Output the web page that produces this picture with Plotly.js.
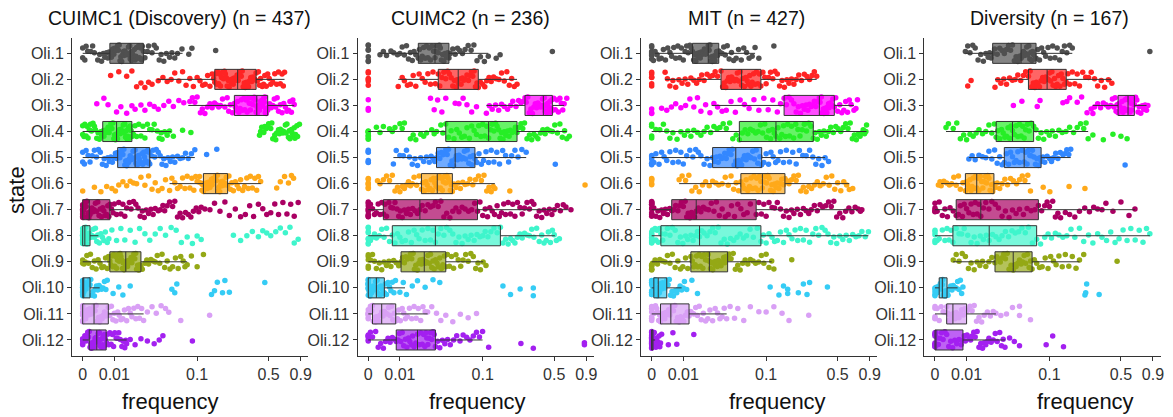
<!DOCTYPE html>
<html>
<head>
<meta charset="utf-8">
<script src="https://cdn.plot.ly/plotly-3.0.1.min.js"></script>
<style>html,body{margin:0;padding:0;background:#fff;}#chart{width:1173px;height:417px;}</style>
</head>
<body>
<div id="chart"></div>
<script>
// ---------------- DATA ----------------
const states = ['Oli.1','Oli.2','Oli.3','Oli.4','Oli.5','Oli.6','Oli.7','Oli.8','Oli.9','Oli.10','Oli.11','Oli.12'];
const panelTitles = ['CUIMC1 (Discovery) (n = 437)', 'CUIMC2 (n = 236)', 'MIT (n = 427)', 'Diversity (n = 167)'];
const tickValues = [0, 0.01, 0.1, 0.5, 0.9];
const tickLabels = ['0', '0.01', '0.1', '0.5', '0.9'];

// box statistics (frequency), one entry per state
const cuimc1Q1     = [0.0082, 0.151, 0.235, 0.0056, 0.0115, 0.116, 0, 0, 0.0082, 0, 0, 0.0016];
const cuimc1Median = [0.018, 0.253, 0.386, 0.011, 0.021, 0.154, 0.0016, 0.0005, 0.0155, 0.0002, 0.0029, 0.0037];
const cuimc1Q3     = [0.0268, 0.38, 0.49, 0.019, 0.032, 0.202, 0.0082, 0.0018, 0.025, 0.0018, 0.0076, 0.0068];
const cuimc1Lower  = [0, 0.039, 0.082, 0, 0, 0.053, 0, 0, 0, 0, 0, 0];
const cuimc1Upper  = [0.072, 0.67, 0.80, 0.055, 0.095, 0.42, 0.0294, 0.0042, 0.08, 0.0046, 0.027, 0.016];

const cuimc2Q1     = [0.0195, 0.0346, 0.263, 0.042, 0.033, 0.0215, 0.004, 0.007, 0.0105, 0, 0.001, 0.0085];
const cuimc2Median = [0.0317, 0.057, 0.394, 0.115, 0.053, 0.0337, 0.0205, 0.032, 0.0234, 0.002, 0.0035, 0.019];
const cuimc2Q3     = [0.0455, 0.0906, 0.48, 0.22, 0.084, 0.0495, 0.089, 0.151, 0.042, 0.0043, 0.0083, 0.032];
const cuimc2Lower  = [0.003, 0.0093, 0.109, 0, 0.0074, 0.0023, 0, 0, 0, 0, 0, 0];
const cuimc2Upper  = [0.114, 0.22, 0.60, 0.63, 0.27, 0.133, 0.65, 0.506, 0.101, 0.0123, 0.0258, 0.0997];

const mitQ1     = [0.0143, 0.034, 0.152, 0.054, 0.027, 0.056, 0.0056, 0.0023, 0.0135, 0.0005, 0.0022, 0];
const mitMedian = [0.0238, 0.057, 0.335, 0.126, 0.0495, 0.092, 0.0163, 0.0182, 0.0246, 0.0016, 0.0053, 0];
const mitQ3     = [0.032, 0.089, 0.465, 0.293, 0.0906, 0.155, 0.08, 0.089, 0.0404, 0.004, 0.0126, 0.0003];
const mitLower  = [0.0008, 0.0035, 0.0263, 0, 0, 0.0083, 0, 0, 0, 0, 0, 0];
const mitUpper  = [0.078, 0.316, 0.675, 0.85, 0.38, 0.62, 0.73, 0.88, 0.114, 0.0093, 0.0394, 0.0008];

const diversityQ1     = [0.0246, 0.062, 0.47, 0.0272, 0.034, 0.0095, 0.006, 0.0049, 0.0263, 0.001, 0.003, 0];
const diversityMedian = [0.052, 0.095, 0.57, 0.042, 0.056, 0.0148, 0.017, 0.0222, 0.0428, 0.0018, 0.0049, 0];
const diversityQ3     = [0.074, 0.148, 0.64, 0.070, 0.083, 0.0255, 0.078, 0.075, 0.0675, 0.0031, 0.01, 0.0085];
const diversityLower  = [0.0095, 0.0263, 0.27, 0.0028, 0.011, 0.0015, 0, 0, 0.005, 0, 0, 0];
const diversityUpper  = [0.17, 0.41, 0.80, 0.243, 0.164, 0.065, 0.647, 0.85, 0.2, 0.0065, 0.027, 0.0346];

// sample frequencies (points), one list per state
const cuimc1Points = [
 [0,0,0.0005,0.0012,0.002,0.003,0.004,0.0052,0.0063,0.0074,0.0085,0.009,0.0098,0.0106,0.0115,0.0122,0.013,0.0139,0.0146,0.0155,0.0165,0.0174,0.018,0.0188,0.0195,0.0205,0.0215,0.0228,0.024,0.0255,0.028,0.031,0.034,0.038,0.043,0.049,0.056,0.064,0.071,0.083,0.089,0.154,
  0.0008,0.0025,0.0046,0.0058,0.0069,0.0079,0.0088,0.0094,0.0102,0.011,0.0118,0.0126,0.0134,0.0143,0.015,0.016,0.017,0.0177,0.0184,0.0192,0.02,0.021,0.022,0.0234,0.0248,0.026,0.0268,0.03,0.036,0.041,0.046,0.053,0.06],
 [0.0085,0.012,0.016,0.019,0.022,0.025,0.028,0.031,0.034,0.04,0.05,0.06,0.072,0.085,0.1,0.114,0.128,0.142,0.151,0.158,0.165,0.172,0.18,0.188,0.196,0.205,0.214,0.224,0.234,0.245,0.256,0.268,0.28,0.293,0.307,0.322,0.338,0.355,0.37,0.39,0.41,0.435,0.46,0.49,0.52,0.56,0.6,0.64,0.67,
  0.045,0.055,0.066,0.078,0.092,0.107,0.121,0.135,0.147,0.154,0.161,0.168,0.176,0.184,0.192,0.2,0.209,0.219,0.229,0.24,0.25,0.262,0.274,0.286,0.3,0.315,0.33,0.346,0.362,0.38,0.4,0.42,0.448,0.475,0.505,0.54,0.58,0.62,0.655],
 [0.0037,0.006,0.0075,0.011,0.013,0.016,0.019,0.021,0.025,0.028,0.032,0.036,0.04,0.046,0.052,0.058,0.066,0.074,0.085,0.095,0.108,0.12,0.135,0.15,0.165,0.18,0.2,0.215,0.235,0.245,0.26,0.275,0.29,0.305,0.32,0.335,0.35,0.365,0.386,0.395,0.405,0.415,0.425,0.435,0.445,0.455,0.465,0.475,0.49,0.51,0.54,0.57,0.6,0.64,0.68,0.72,0.76,0.8,
  0.09,0.1,0.113,0.127,0.142,0.157,0.172,0.19,0.207,0.225,0.24,0.252,0.267,0.282,0.297,0.312,0.327,0.342,0.357,0.372,0.38,0.39,0.4,0.41,0.42,0.43,0.44,0.45,0.46,0.47,0.48,0.5,0.525,0.555,0.585,0.62,0.66,0.7,0.74,0.78],
 [0,0,0.0005,0.001,0.0016,0.0022,0.003,0.0037,0.0045,0.0052,0.006,0.0067,0.0075,0.0082,0.009,0.0098,0.0105,0.011,0.0118,0.0126,0.0134,0.0142,0.015,0.0158,0.0166,0.0175,0.0185,0.02,0.022,0.025,0.028,0.032,0.036,0.041,0.047,0.053,0.043,0.05,0.058,0.072,0.087,0.41,0.43,0.45,0.47,0.5,0.52,0.54,0.56,0.58,0.6,0.62,0.64,0.66,0.68,0.7,0.72,0.74,0.76,0.78,0.8,0.82,0.85,0.88,
  0.0003,0.0008,0.0013,0.0019,0.0026,0.0033,0.0041,0.0049,0.0056,0.0063,0.0071,0.0079,0.0086,0.0094,0.0101,0.0108,0.0114,0.0122,0.013,0.0138,0.0146,0.0154,0.0162,0.017,0.018,0.019,0.021,0.0235,0.0265,0.03,0.034,0.039,0.044,
  0.42,0.46,0.49,0.53,0.57,0.61,0.65,0.69,0.73,0.77,0.81,0.84],
 [0,0,0.0008,0.0018,0.003,0.0042,0.0055,0.0068,0.008,0.0092,0.0105,0.0115,0.0125,0.0135,0.0145,0.0155,0.0165,0.0175,0.0185,0.0197,0.021,0.022,0.0232,0.0245,0.0258,0.027,0.0283,0.0296,0.031,0.032,0.035,0.038,0.042,0.046,0.051,0.057,0.064,0.072,0.082,0.095,0.125,0.158,
  0.0004,0.0013,0.0024,0.0036,0.0048,0.0061,0.0074,0.0086,0.0098,0.011,0.012,0.013,0.014,0.015,0.016,0.017,0.018,0.019,0.0203,0.0215,0.0226,0.0238,0.0251,0.0264,0.0276,0.029,0.0303,0.0315,0.0335,0.0365,0.04,0.044,0.0485,0.054,0.06,0.068,0.077,0.088],
 [0,0.003,0.005,0.007,0.009,0.0105,0.012,0.014,0.016,0.018,0.02,0.022,0.025,0.028,0.031,0.034,0.037,0.04,0.044,0.048,0.053,0.06,0.068,0.076,0.085,0.093,0.1,0.106,0.112,0.116,0.122,0.127,0.132,0.137,0.142,0.147,0.154,0.16,0.166,0.172,0.178,0.185,0.192,0.202,0.215,0.23,0.25,0.27,0.295,0.32,0.35,0.385,0.42,0.58,0.62,0.67,0.72,0.76,0.79,
  0.056,0.064,0.072,0.08,0.089,0.097,0.103,0.109,0.114,0.119,0.124,0.13,0.135,0.14,0.145,0.15,0.157,0.163,0.169,0.175,0.181,0.188,0.196,0.208,0.222,0.24,0.26,0.283,0.31,0.335,0.37,0.4],
 [0,0,0,0,0,0,0,0.0003,0.0006,0.001,0.0013,0.0016,0.002,0.0026,0.0033,0.004,0.0048,0.0056,0.0065,0.0074,0.0082,0.0095,0.011,0.013,0.015,0.0175,0.02,0.023,0.026,0.029,0.033,0.037,0.042,0.047,0.053,0.06,0.068,0.077,0.087,0.098,0.11,0.12,0.135,0.15,0.17,0.19,0.21,0.24,0.27,0.3,0.33,0.36,0.4,0.44,0.48,0.52,0.56,0.6,0.65,0.7,0.75,0.8,0.86,
  0,0,0,0,0.0001,0.0004,0.0008,0.0011,0.0015,0.0018,0.0023,0.0029,0.0036,0.0044,0.0052,0.006,0.007,0.0078,0.0088,0.01,0.012,0.014,0.016,0.0185,0.0215,0.0245,0.0275,0.031,0.035,0.04,0.045,0.05,0.057,0.064,0.072,0.082,0.092,0.104],
 [0,0,0,0,0,0,0,0,0,0.0002,0.0004,0.0006,0.0009,0.0012,0.0015,0.0018,0.0024,0.003,0.0037,0.0045,0.0055,0.0065,0.0078,0.009,0.011,0.013,0.015,0.018,0.021,0.024,0.028,0.032,0.037,0.042,0.048,0.055,0.062,0.07,0.08,0.09,0.1,0.11,0.23,0.27,0.31,0.35,0.4,0.44,0.48,0.52,0.57,0.62,0.68,0.74,0.8,0.86,
  0,0,0,0,0,0,0.0001,0.0003,0.0005,0.0007,0.0008,0.001,0.0014,0.0017,0.0021,0.0027,0.0033,0.004,0.005,0.006,0.0072],
 [0,0,0.0006,0.0014,0.0024,0.0035,0.0047,0.006,0.0072,0.0082,0.009,0.0098,0.0106,0.0114,0.0122,0.013,0.0138,0.0146,0.0155,0.0165,0.0175,0.0185,0.0196,0.0208,0.022,0.0234,0.025,0.028,0.031,0.035,0.039,0.044,0.05,0.057,0.065,0.073,0.08,0.088,0.1,0.116,
  0.0003,0.001,0.0019,0.003,0.0041,0.0053,0.0066,0.0077,0.0086,0.0094,0.0102,0.011,0.0118,0.0126,0.0134,0.0142,0.015,0.016,0.017,0.018,0.019,0.0202,0.0214,0.0227,0.0242,0.026,0.0295,0.033,0.037,0.0415,0.047,0.0535,0.061,0.069,0.076],
 [0,0,0,0,0,0,0,0,0,0.0002,0.0005,0.0008,0.0012,0.0016,0.002,0.0026,0.0033,0.004,0.0048,0.0057,0.0067,0.0095,0.012,0.014,0.018,0.056,0.06,0.063,0.14,0.15,0.16,0.18,0.19,0.21,0.46,
  0,0,0,0,0,0,0.0001,0.0003,0.0006,0.001,0.0014,0.0018,0.0023,0.003,0.0036,0.0044,0.0052,0.0062,0.0072],
 [0,0,0,0,0,0.0003,0.0007,0.0012,0.0017,0.0022,0.0029,0.0035,0.0042,0.005,0.0058,0.0067,0.0076,0.0088,0.01,0.0115,0.013,0.0148,0.017,0.019,0.0215,0.024,0.027,0.03,0.034,0.038,0.043,0.048,0.052,0.069,0.134,
  0,0,0,0.0001,0.0005,0.001,0.0014,0.002,0.0025,0.0032,0.0038,0.0046,0.0054,0.0062,0.0071,0.0082,0.0094,0.0107,0.0122,0.014,0.016,0.018,0.0202,0.0228,0.0255],
 [0,0,0,0.0005,0.001,0.0014,0.0018,0.0022,0.0026,0.003,0.0034,0.0037,0.0041,0.0045,0.005,0.0055,0.006,0.0065,0.007,0.0078,0.0087,0.0097,0.0108,0.012,0.0135,0.015,0.016,0.018,0.021,0.025,0.03,0.036,0.041,0.045,0.09,
  0,0,0.0002,0.0008,0.0012,0.0016,0.002,0.0024,0.0028,0.0032,0.0035,0.0039,0.0043,0.0047,0.0052,0.0057,0.0062,0.0067,0.0074,0.0082,0.0092,0.0102,0.0114,0.0127,0.0142,0.0155]
];

const cuimc2Points = [
 [0,0,0,0,0,0.003,0.005,0.0075,0.01,0.012,0.014,0.016,0.018,0.0195,0.021,0.023,0.025,0.027,0.029,0.0317,0.0335,0.0355,0.0375,0.04,0.0425,0.0455,0.05,0.056,0.063,0.072,0.082,0.095,0.114,0.137,0.15,0.48,
  0,0,0.004,0.0065,0.009,0.011,0.013,0.015,0.017,0.0202,0.022,0.024,0.026,0.028,0.0305,0.0326,0.0345,0.0365,0.0388,0.0412,0.044,0.047,0.053,0.059,0.067,0.077,0.088,0.104],
 [0,0,0,0,0,0.0093,0.012,0.015,0.018,0.022,0.026,0.03,0.0346,0.038,0.042,0.046,0.05,0.054,0.057,0.061,0.065,0.07,0.075,0.08,0.085,0.0906,0.1,0.11,0.122,0.137,0.155,0.175,0.195,0.22,
  0,0.011,0.0135,0.0165,0.02,0.024,0.028,0.032,0.036,0.04,0.044,0.048,0.052,0.0555,0.059,0.063,0.0675,0.0725,0.0775,0.0825,0.088,0.095,0.105,0.116,0.129,0.146,0.165,0.185,0.207],
 [0,0,0,0.028,0.031,0.034,0.038,0.042,0.053,0.058,0.064,0.07,0.078,0.087,0.109,0.125,0.145,0.165,0.19,0.215,0.24,0.263,0.28,0.3,0.32,0.34,0.36,0.38,0.394,0.41,0.425,0.44,0.455,0.47,0.48,0.51,0.54,0.57,0.6,0.63,
  0.117,0.135,0.155,0.178,0.2,0.228,0.25,0.27,0.29,0.31,0.33,0.35,0.37,0.387,0.402,0.418,0.432,0.447,0.462,0.475,0.495,0.525,0.555,0.585],
 [0,0,0,0,0,0,0.002,0.004,0.006,0.008,0.01,0.012,0.015,0.018,0.021,0.025,0.029,0.033,0.037,0.042,0.048,0.055,0.062,0.07,0.078,0.087,0.096,0.105,0.115,0.125,0.135,0.145,0.155,0.165,0.178,0.19,0.205,0.22,0.24,0.26,0.29,0.32,0.35,0.39,0.43,0.48,0.53,0.58,0.63,0.66,
  0,0,0.003,0.007,0.011,0.0165,0.023,0.031,0.039,0.045,0.0515,0.0585,0.066,0.074,0.0825,0.0915,0.1,0.11,0.12,0.13,0.14,0.15,0.16,0.171,0.184,0.197,0.212,0.23,0.25,0.275,0.305,0.335,0.37,0.41,0.455,0.505,0.555,0.605],
 [0,0,0,0,0,0.0074,0.01,0.013,0.016,0.019,0.023,0.027,0.03,0.033,0.036,0.039,0.042,0.045,0.049,0.053,0.056,0.06,0.064,0.068,0.073,0.078,0.084,0.092,0.102,0.115,0.13,0.148,0.17,0.195,0.225,0.27,0.51,
  0,0.0085,0.0115,0.0145,0.0175,0.021,0.025,0.0285,0.0315,0.0345,0.0375,0.0405,0.0435,0.047,0.051,0.0545,0.058,0.062,0.066,0.0705,0.0755,0.081,0.088,0.097,0.108,0.122,0.139,0.159,0.182,0.21,0.245],
 [0,0,0,0,0,0,0.0023,0.004,0.006,0.008,0.01,0.012,0.014,0.016,0.0185,0.0215,0.0235,0.0255,0.0275,0.0295,0.0315,0.0337,0.0355,0.0375,0.0395,0.042,0.0445,0.047,0.0495,0.054,0.06,0.067,0.075,0.085,0.097,0.11,0.122,0.133,0.187,0.88,
  0,0.003,0.005,0.007,0.009,0.011,0.013,0.015,0.017,0.02,0.0225,0.0245,0.0265,0.0285,0.0305,0.0326,0.0346,0.0365,0.0385,0.0408,0.0432,0.0458,0.0482,0.0515,0.057,0.0635,0.071,0.08,0.091,0.103,0.116,0.128],
 [0,0,0,0,0,0,0,0.001,0.002,0.003,0.004,0.005,0.0065,0.008,0.0095,0.011,0.013,0.015,0.0175,0.0205,0.024,0.028,0.032,0.037,0.043,0.05,0.058,0.067,0.078,0.089,0.1,0.112,0.125,0.14,0.155,0.17,0.19,0.21,0.235,0.26,0.29,0.32,0.36,0.4,0.45,0.5,0.56,0.62,0.68,
  0,0,0,0.0005,0.0015,0.0025,0.0035,0.0045,0.0058,0.0072,0.0088,0.0102,0.012,0.014,0.0162,0.019,0.022,0.026,0.03,0.0345,0.04,0.0465,0.054,0.0625,0.0725,0.0835,0.094,0.106,0.118,0.132,0.147,0.163,0.18,0.2,0.222,0.247,0.275,0.305,0.34,0.38,0.425,0.475,0.53,0.59],
 [0,0,0,0,0,0,0.001,0.002,0.0035,0.005,0.007,0.009,0.011,0.014,0.017,0.02,0.024,0.028,0.032,0.037,0.043,0.05,0.058,0.067,0.077,0.088,0.1,0.113,0.13,0.151,0.17,0.19,0.21,0.235,0.26,0.29,0.32,0.36,0.4,0.44,0.48,0.52,0.55,
  0,0,0.0005,0.0015,0.0028,0.0042,0.006,0.008,0.01,0.0125,0.0155,0.0185,0.022,0.026,0.03,0.0345,0.04,0.0465,0.054,0.0625,0.072,0.0825,0.094,0.106,0.121,0.14,0.16,0.18,0.2,0.222,0.247,0.275,0.305,0.34,0.38,0.42,0.46,0.5],
 [0,0,0,0,0.001,0.002,0.0035,0.005,0.0065,0.0085,0.0105,0.012,0.0135,0.015,0.0165,0.018,0.0198,0.0215,0.0234,0.025,0.027,0.029,0.031,0.0335,0.036,0.039,0.042,0.046,0.051,0.057,0.064,0.072,0.081,0.09,0.101,0.108,
  0,0.0005,0.0015,0.0028,0.0042,0.0058,0.0075,0.0095,0.0112,0.0127,0.0142,0.0157,0.0172,0.0189,0.0206,0.0224,0.0242,0.026,0.028,0.03,0.0322,0.0347,0.0375,0.0405,0.0438,0.0485,0.054,0.0605,0.068,0.0765,0.0855,0.095],
 [0,0,0,0,0,0,0,0.0004,0.0008,0.0012,0.0016,0.002,0.0025,0.003,0.0036,0.0043,0.005,0.006,0.007,0.0082,0.01,0.0115,0.013,0.016,0.019,0.024,0.03,0.036,0.16,0.19,0.236,0.316,0.316,
  0,0,0,0,0.0002,0.0006,0.001,0.0014,0.0018,0.0022,0.0027,0.0033,0.0039,0.0046,0.0055,0.0065,0.0076],
 [0,0,0,0,0,0.0005,0.001,0.0015,0.002,0.0027,0.0035,0.0043,0.0052,0.0062,0.0072,0.0083,0.0095,0.011,0.0125,0.0145,0.017,0.0195,0.0225,0.0258,0.029,0.033,0.037,0.042,0.05,0.06,0.072,0.087,
  0,0,0,0.0002,0.0008,0.0012,0.0018,0.0023,0.003,0.0039,0.0047,0.0057,0.0067,0.0078,0.009,0.0102,0.0117,0.0135,0.0157,0.0182,0.021,0.024],
 [0,0,0,0,0.001,0.0025,0.004,0.0055,0.007,0.0085,0.0098,0.011,0.0125,0.014,0.0155,0.017,0.019,0.021,0.023,0.0245,0.026,0.028,0.03,0.032,0.036,0.041,0.047,0.055,0.064,0.075,0.087,0.0997,0.115,0.24,0.316,0.87,0.87,
  0,0,0.0005,0.0018,0.0032,0.0047,0.0062,0.0078,0.0092,0.0104,0.0117,0.0132,0.0147,0.0162,0.018,0.02,0.022,0.0238,0.0252,0.027,0.029,0.031,0.034,0.0385,0.044,0.051,0.0595,0.0695,0.081,0.093]
];

const mitPoints = [
 [0,0,0,0,0,0,0.0008,0.0018,0.003,0.0043,0.0056,0.007,0.0085,0.01,0.0115,0.013,0.0143,0.0155,0.0167,0.018,0.0192,0.0205,0.022,0.0238,0.025,0.0262,0.0275,0.0288,0.0302,0.032,0.035,0.038,0.042,0.047,0.053,0.06,0.068,0.078,0.085,0.12,
  0,0,0,0.0004,0.0013,0.0024,0.0036,0.005,0.0063,0.0078,0.0092,0.0108,0.0122,0.0136,0.0149,0.0161,0.0173,0.0186,0.0198,0.0212,0.0229,0.0244,0.0256,0.0268,0.0281,0.0295,0.031,0.0335,0.0365,0.04,0.0445,0.05,0.0565,0.064,0.073],
 [0,0,0,0,0.0035,0.005,0.007,0.0095,0.012,0.015,0.018,0.021,0.025,0.029,0.034,0.037,0.04,0.043,0.046,0.05,0.053,0.057,0.061,0.065,0.069,0.073,0.078,0.083,0.089,0.097,0.106,0.117,0.13,0.145,0.162,0.18,0.2,0.225,0.255,0.285,0.316,
  0,0,0.0042,0.006,0.0082,0.0108,0.0135,0.0165,0.0195,0.023,0.027,0.031,0.0355,0.0385,0.0415,0.0445,0.048,0.0515,0.055,0.059,0.063,0.067,0.071,0.0755,0.0805,0.086,0.093,0.1,0.111,0.123,0.137,0.153,0.17,0.19,0.212,0.24,0.27,0.3],
 [0,0,0,0.0025,0.004,0.0055,0.007,0.009,0.011,0.013,0.015,0.017,0.019,0.022,0.025,0.028,0.031,0.035,0.039,0.044,0.049,0.055,0.061,0.068,0.076,0.085,0.095,0.105,0.117,0.13,0.152,0.17,0.19,0.21,0.23,0.25,0.27,0.29,0.31,0.335,0.35,0.365,0.38,0.395,0.41,0.425,0.44,0.465,0.5,0.54,0.58,0.62,0.675,0.72,
  0.14,0.16,0.18,0.2,0.22,0.24,0.26,0.28,0.3,0.32,0.34,0.355,0.37,0.385,0.4,0.415,0.43,0.45,0.48,0.52,0.56,0.6,0.64,0.7],
 [0,0,0,0.002,0.004,0.006,0.009,0.012,0.015,0.019,0.023,0.028,0.033,0.039,0.046,0.054,0.062,0.07,0.079,0.088,0.097,0.106,0.116,0.126,0.138,0.15,0.165,0.18,0.198,0.218,0.24,0.265,0.293,0.32,0.35,0.39,0.43,0.48,0.53,0.58,0.63,0.68,0.73,0.78,0.82,0.85,
  0,0.001,0.003,0.005,0.0075,0.0105,0.0135,0.017,0.021,0.0255,0.0305,0.036,0.0425,0.05,0.058,0.066,0.0745,0.0835,0.0925,0.101,0.111,0.121,0.132,0.144,0.157,0.172,0.189,0.208,0.229,0.252,0.278,0.305,0.335,0.37,0.41,0.455,0.505,0.555,0.605,0.655,0.705,0.755,0.8,0.84],
 [0,0,0,0,0.001,0.0025,0.004,0.006,0.008,0.01,0.013,0.016,0.019,0.023,0.027,0.03,0.033,0.036,0.039,0.042,0.0455,0.0495,0.053,0.057,0.061,0.066,0.071,0.077,0.083,0.0906,0.1,0.112,0.125,0.14,0.16,0.185,0.215,0.25,0.29,0.33,0.38,0.41,
  0,0,0.0005,0.0018,0.0032,0.005,0.007,0.009,0.0115,0.0145,0.0175,0.021,0.025,0.0285,0.0315,0.0345,0.0375,0.0405,0.044,0.0475,0.0512,0.055,0.059,0.0635,0.0685,0.074,0.08,0.087,0.095,0.106,0.118,0.132,0.15,0.172,0.2,0.232,0.27,0.31,0.355],
 [0,0,0,0,0.0083,0.011,0.014,0.018,0.022,0.027,0.032,0.038,0.044,0.05,0.056,0.061,0.066,0.071,0.076,0.081,0.086,0.092,0.098,0.104,0.111,0.118,0.126,0.135,0.144,0.155,0.17,0.19,0.21,0.235,0.265,0.3,0.34,0.39,0.44,0.5,0.56,0.62,0.66,
  0,0.0095,0.0125,0.016,0.02,0.0245,0.0295,0.035,0.041,0.047,0.053,0.0585,0.0635,0.0685,0.0735,0.0785,0.0835,0.089,0.095,0.101,0.1075,0.1145,0.122,0.13,0.1395,0.15,0.162,0.18,0.2,0.222,0.25,0.282,0.32,0.365,0.415,0.47,0.53,0.59],
 [0,0,0,0,0,0,0,0.001,0.002,0.003,0.0042,0.0056,0.007,0.0085,0.01,0.0115,0.013,0.0145,0.0163,0.019,0.022,0.026,0.03,0.035,0.041,0.048,0.056,0.065,0.08,0.09,0.1,0.115,0.13,0.15,0.17,0.19,0.22,0.25,0.28,0.32,0.36,0.41,0.46,0.52,0.58,0.65,0.73,0.78,
  0,0,0,0,0,0.0005,0.0015,0.0025,0.0036,0.0049,0.0063,0.0078,0.0092,0.0108,0.0122,0.0138,0.0154,0.0175,0.0205,0.024,0.028,0.0325,0.038,0.0445,0.052,0.06,0.07,0.085,0.095,0.107,0.122,0.14,0.16,0.18,0.205,0.235,0.265,0.3,0.34,0.385,0.435,0.49,0.55,0.615,0.69,0.76],
 [0,0,0,0,0,0,0.0005,0.001,0.0016,0.0023,0.0035,0.005,0.0068,0.0088,0.011,0.0135,0.0158,0.0182,0.021,0.025,0.029,0.034,0.04,0.047,0.055,0.064,0.075,0.089,0.1,0.115,0.13,0.15,0.17,0.195,0.22,0.25,0.29,0.33,0.38,0.43,0.49,0.55,0.62,0.7,0.78,0.88,
  0,0,0,0.0002,0.0008,0.0013,0.0019,0.0028,0.0042,0.0058,0.0078,0.0098,0.012,0.0146,0.017,0.0195,0.023,0.027,0.0315,0.037,0.0435,0.051,0.0595,0.0695,0.082,0.094,0.107,0.122,0.14,0.16,0.182,0.207,0.235,0.27,0.31,0.355,0.405,0.46,0.52,0.585,0.66,0.74,0.83],
 [0,0,0,0,0.0008,0.002,0.0035,0.005,0.0068,0.0088,0.011,0.0135,0.015,0.0165,0.018,0.0195,0.021,0.0228,0.0246,0.0262,0.028,0.0298,0.0318,0.034,0.0365,0.0385,0.0404,0.044,0.049,0.055,0.062,0.07,0.079,0.09,0.1,0.114,0.12,0.181,
  0,0,0.0002,0.0014,0.0027,0.0042,0.0058,0.0078,0.0098,0.012,0.0142,0.0157,0.0172,0.0187,0.0202,0.0219,0.0237,0.0254,0.0271,0.0289,0.0308,0.0329,0.0352,0.0375,0.0395,0.042,0.0465,0.052,0.0585,0.066,0.0745,0.0845,0.095,0.107],
 [0,0,0,0,0,0,0.0003,0.0005,0.0008,0.0011,0.0014,0.0016,0.0019,0.0023,0.0028,0.0034,0.004,0.0048,0.0057,0.0068,0.008,0.0093,0.0105,0.0115,0.014,0.017,0.11,0.135,0.15,0.165,0.165,0.21,0.235,0.255,0.27,0.4,
  0,0,0,0,0,0.0001,0.0004,0.0006,0.0009,0.0012,0.0015,0.0017,0.0021,0.0025,0.0031,0.0037,0.0044,0.0052,0.0062,0.0074,0.0087,0.01],
 [0,0,0,0,0,0.0006,0.0012,0.0017,0.0022,0.0028,0.0034,0.004,0.0046,0.0053,0.0062,0.0072,0.0083,0.0095,0.011,0.0126,0.0142,0.016,0.018,0.0205,0.0235,0.027,0.031,0.035,0.0394,0.043,0.048,0.052,0.06,0.07,0.085,0.1,0.12,0.145,0.17,0.265,
  0,0,0,0.0003,0.0009,0.0014,0.002,0.0025,0.0031,0.0037,0.0043,0.005,0.0057,0.0067,0.0077,0.0089,0.0102,0.0118,0.0134,0.015,0.017,0.0192,0.022,0.025,0.029,0.033,0.037],
 [0,0,0,0,0,0,0,0,0,0,0,0,0.0002,0.0004,0.0006,0.0009,0.0012,0.0016,0.002,0.0025,0.0045,0.006,0.0074,0.015,
  0,0,0,0,0,0,0,0,0,0,0.0001,0.0003,0.0005,0.0007,0.001,0.0014,0.0018,0.0022]
];

const diversityPoints = [
 [0.0095,0.0115,0.014,0.017,0.02,0.0225,0.0246,0.028,0.032,0.036,0.04,0.044,0.048,0.052,0.055,0.058,0.061,0.064,0.067,0.07,0.074,0.08,0.088,0.097,0.108,0.12,0.135,0.15,0.17,0.85,
  0.0105,0.0128,0.0155,0.0185,0.0215,0.0235,0.026,0.03,0.034,0.038,0.042,0.046,0.05,0.0535,0.0565,0.0595,0.0625,0.0655,0.0685,0.072,0.077,0.084,0.092,0.102,0.114,0.127,0.142,0.16],
 [0.0105,0.012,0.0263,0.031,0.036,0.042,0.048,0.055,0.062,0.067,0.072,0.077,0.083,0.089,0.095,0.1,0.106,0.113,0.12,0.128,0.137,0.148,0.16,0.18,0.2,0.23,0.26,0.3,0.35,0.41,
  0.0285,0.0335,0.039,0.045,0.0515,0.058,0.0645,0.0695,0.0745,0.08,0.086,0.092,0.0975,0.103,0.109,0.116,0.124,0.132,0.142,0.154,0.17,0.19,0.215,0.245,0.28,0.325,0.38],
 [0.043,0.053,0.076,0.081,0.137,0.15,0.16,0.19,0.21,0.237,0.26,0.3,0.27,0.32,0.36,0.4,0.43,0.45,0.47,0.49,0.51,0.53,0.55,0.57,0.59,0.6,0.62,0.64,0.67,0.7,0.74,0.78,0.82,
  0.28,0.34,0.38,0.415,0.44,0.46,0.48,0.5,0.52,0.54,0.56,0.58,0.595,0.61,0.63,0.655,0.685,0.72,0.76,0.8],
 [0.0028,0.005,0.0075,0.01,0.013,0.016,0.02,0.024,0.0272,0.03,0.033,0.036,0.039,0.042,0.046,0.05,0.054,0.058,0.063,0.07,0.078,0.088,0.1,0.115,0.135,0.16,0.19,0.22,0.243,0.27,0.34,0.42,0.5,0.56,
  0.0035,0.0062,0.0088,0.0115,0.0145,0.018,0.022,0.0258,0.0285,0.0315,0.0345,0.0375,0.0405,0.044,0.048,0.052,0.056,0.0605,0.066,0.074,0.083,0.094,0.107,0.125,0.147,0.175,0.205,0.232],
 [0.011,0.014,0.018,0.022,0.026,0.03,0.034,0.038,0.042,0.046,0.05,0.056,0.06,0.064,0.068,0.073,0.078,0.083,0.09,0.1,0.11,0.122,0.137,0.15,0.164,0.54,
  0.0125,0.016,0.02,0.024,0.028,0.032,0.036,0.04,0.044,0.048,0.053,0.058,0.062,0.066,0.0705,0.0755,0.0805,0.0865,0.095,0.105,0.116,0.129,0.143,0.157],
 [0.0008,0.0015,0.003,0.0045,0.006,0.0075,0.0095,0.0105,0.0115,0.0125,0.0136,0.0148,0.016,0.0175,0.019,0.0205,0.022,0.0238,0.0255,0.028,0.032,0.037,0.043,0.05,0.057,0.065,0.087,0.101,0.158,0.226,
  0.0012,0.0022,0.0038,0.0052,0.0068,0.0085,0.01,0.011,0.012,0.013,0.0142,0.0154,0.0167,0.0182,0.0198,0.0212,0.0228,0.0246,0.0265,0.03,0.0345,0.04,0.0465,0.0535,0.061],
 [0,0,0,0.001,0.0025,0.004,0.006,0.0075,0.009,0.011,0.013,0.015,0.017,0.02,0.024,0.029,0.035,0.042,0.05,0.06,0.078,0.09,0.1,0.115,0.13,0.16,0.2,0.25,0.3,0.36,0.42,0.5,0.58,0.647,
  0,0,0.0005,0.0018,0.0032,0.005,0.0068,0.0083,0.01,0.012,0.014,0.016,0.0185,0.022,0.0265,0.032,0.0385,0.046,0.055,0.066,0.072,0.084,0.095,0.108,0.122,0.145,0.18,0.225,0.275,0.33],
 [0,0,0,0.001,0.0025,0.0037,0.0049,0.007,0.009,0.012,0.015,0.0185,0.0222,0.027,0.032,0.038,0.045,0.053,0.062,0.075,0.09,0.105,0.125,0.15,0.18,0.22,0.27,0.33,0.4,0.48,0.56,0.65,0.75,0.85,
  0,0,0.0005,0.0018,0.0031,0.0043,0.006,0.008,0.0105,0.0135,0.0167,0.0203,0.0245,0.0295,0.035,0.0415,0.049,0.0575,0.068,0.082,0.097,0.115,0.137,0.165,0.2,0.245,0.3,0.365,0.44,0.52,0.6,0.7,0.8],
 [0.005,0.007,0.0095,0.012,0.015,0.018,0.022,0.0263,0.029,0.032,0.035,0.0385,0.0428,0.046,0.05,0.054,0.058,0.063,0.0675,0.075,0.085,0.097,0.11,0.125,0.145,0.17,0.2,0.22,0.46,
  0.006,0.0082,0.0108,0.0135,0.0165,0.02,0.024,0.0277,0.0305,0.0335,0.0368,0.0405,0.0445,0.048,0.052,0.056,0.0605,0.0652,0.071,0.08,0.091,0.103,0.117,0.135,0.157,0.185],
 [0,0,0,0.0005,0.001,0.0013,0.0016,0.0018,0.0021,0.0025,0.0031,0.0038,0.0046,0.0055,0.0065,0.0075,0.0085,0.226,0.23,0.235,0.31,
  0,0,0.0003,0.0008,0.0011,0.0014,0.0017,0.0019,0.0023,0.0028,0.0034,0.0042,0.005,0.006,0.007,0.008],
 [0,0,0,0.001,0.002,0.003,0.0036,0.0042,0.0049,0.0056,0.0065,0.0075,0.0087,0.01,0.0115,0.0135,0.016,0.019,0.023,0.027,0.031,0.036,0.042,0.05,0.05,0.065,
  0,0,0.0005,0.0015,0.0025,0.0033,0.0039,0.0045,0.0052,0.006,0.007,0.008,0.0093,0.0107,0.0125,0.0147,0.0175,0.021,0.025],
 [0,0,0,0,0,0,0.0005,0.0012,0.002,0.003,0.0042,0.0055,0.007,0.0085,0.0095,0.011,0.0125,0.014,0.016,0.018,0.02,0.022,0.025,0.028,0.0315,0.0346,0.039,0.044,0.05,0.093,0.108,0.139,
  0,0,0,0,0.0002,0.0008,0.0016,0.0025,0.0036,0.0048,0.0062,0.0078,0.009,0.0102,0.0118,0.0133,0.015,0.017,0.019,0.021,0.0235,0.0265,0.03,0.033]
];

// ---------------- STYLE ----------------
const stateColors = ['#505050','#ff2424','#ff00ff','#26ee26','#3388ff','#ffa91a','#aa0063','#3ff5cc','#94a816','#35ccf5','#d9a0f5','#a320f0'];
const FONT = 'Liberation Sans, Arial, Helvetica, sans-serif';
const W = 1173, H = 417;
const panelLeft = [72.0, 357.6, 641.0, 924.3];
const panelWidth = 236.3;
const plotTop = 37.7, plotBottom = 355.6;
const xRange = [-0.049, 1.035];
// jitter groups: small groups so Plotly's own jitter spreads every point evenly
const groupSizes = [5, 3, 4, 6, 5, 4, 3, 6, 4];
const jitterStyles = [[0, 0.9], [-0.45, 0.5], [0.45, 0.5], [0.2, 0.4], [-0.2, 0.4], [-0.6, 0.35],
                      [0.6, 0.35], [0, 0.3], [-0.3, 0.6], [0.3, 0.6], [0.1, 0.8], [-0.1, 0.8]];

// axis transform: pseudo-log, anchored at the tick breaks
const anchorPos = [0, 0.145, 0.525, 0.853, 1];
function tx(v) {
  const c = 0.0115, g = function (x) { return Math.log10(x + c); };
  let i = 0;
  while (i < tickValues.length - 2 && v > tickValues[i + 1]) i++;
  return anchorPos[i] + (anchorPos[i + 1] - anchorPos[i]) *
    (g(v) - g(tickValues[i])) / (g(tickValues[i + 1]) - g(tickValues[i]));
}
function rgba(hex, a) {
  const n = parseInt(hex.slice(1), 16);
  return 'rgba(' + (n >> 16 & 255) + ',' + (n >> 8 & 255) + ',' + (n & 255) + ',' + a + ')';
}

const panels = [
  {points: cuimc1Points, q1: cuimc1Q1, med: cuimc1Median, q3: cuimc1Q3, lo: cuimc1Lower, hi: cuimc1Upper},
  {points: cuimc2Points, q1: cuimc2Q1, med: cuimc2Median, q3: cuimc2Q3, lo: cuimc2Lower, hi: cuimc2Upper},
  {points: mitPoints, q1: mitQ1, med: mitMedian, q3: mitQ3, lo: mitLower, hi: mitUpper},
  {points: diversityPoints, q1: diversityQ1, med: diversityMedian, q3: diversityQ3, lo: diversityLower, hi: diversityUpper}
];

const pointTraces = [], boxTraces = [];
const layout = {
  width: W, height: H, margin: {l: 0, r: 0, t: 0, b: 0},
  paper_bgcolor: '#fff', plot_bgcolor: '#fff',
  showlegend: false, boxmode: 'overlay',
  font: {family: FONT, color: '#222'},
  annotations: []
};

let groupCounter = 0;
panels.forEach(function (p, k) {
  const ax = k === 0 ? '' : String(k + 1);
  const xa = 'x' + ax, ya = 'y' + ax;
  states.forEach(function (s, i) {
    const sorted = p.points[i].slice().sort(function (a, b) { return a - b; });
    let j = 0;
    while (j < sorted.length) {
      const size = groupSizes[groupCounter % groupSizes.length];
      const part = sorted.slice(j, j + size);
      j += size;
      const js = jitterStyles[groupCounter % jitterStyles.length];
      groupCounter++;
      pointTraces.push({
        type: 'box', orientation: 'h', xaxis: xa, yaxis: ya,
        x: part.map(tx), y: part.map(function () { return s; }),
        boxpoints: 'all', jitter: js[1], pointpos: js[0], width: 0.72,
        fillcolor: 'rgba(0,0,0,0)', line: {width: 0, color: 'rgba(0,0,0,0)'},
        marker: {color: stateColors[i], size: 5.5, line: {width: 0}},
        hoverinfo: 'skip'
      });
    }
    boxTraces.push({
      type: 'box', orientation: 'h', xaxis: xa, yaxis: ya,
      y: [s], q1: [tx(p.q1[i])], median: [tx(p.med[i])], q3: [tx(p.q3[i])],
      lowerfence: [tx(p.lo[i])], upperfence: [tx(p.hi[i])],
      boxpoints: false, width: 0.77, whiskerwidth: 0,
      fillcolor: rgba(stateColors[i], 0.7),
      line: {color: '#333333', width: 1},
      hoverinfo: 'skip'
    });
  });
  const left = panelLeft[k] / W, right = (panelLeft[k] + panelWidth) / W;
  layout['xaxis' + ax] = {
    domain: [left, right], anchor: ya, range: xRange,
    tickmode: 'array', tickvals: tickValues.map(tx), ticktext: tickLabels,
    showline: true, linecolor: '#333', linewidth: 1,
    ticks: 'outside', ticklen: 4, tickwidth: 1, tickcolor: '#333',
    showgrid: false, zeroline: false,
    tickfont: {family: FONT, size: 16, color: '#333'}
  };
  layout['yaxis' + ax] = {
    domain: [1 - plotBottom / H, 1 - plotTop / H], anchor: xa,
    type: 'category', categoryorder: 'array', categoryarray: states,
    range: [states.length - 0.4, -0.6],
    showline: true, linecolor: '#333', linewidth: 1,
    ticks: 'outside', ticklen: 4, tickwidth: 1, tickcolor: '#333',
    showgrid: false, zeroline: false,
    tickfont: {family: FONT, size: 16, color: '#333'}
  };
});

const titleX = [179.5, 470, 746.7, 1049], titleY = 18.5;
const xTitleX = [170, 477, 777.5, 1085], xTitleY = 401.7;
panelTitles.forEach(function (t, k) {
  layout.annotations.push({text: t, xref: 'paper', yref: 'paper', x: titleX[k] / W, y: 1 - titleY / H,
    xanchor: 'center', yanchor: 'middle', showarrow: false, font: {family: FONT, size: 19.5, color: '#111'}});
  layout.annotations.push({text: 'frequency', xref: 'paper', yref: 'paper', x: xTitleX[k] / W, y: 1 - xTitleY / H,
    xanchor: 'center', yanchor: 'middle', showarrow: false, font: {family: FONT, size: 22, color: '#111'}});
});
layout.annotations.push({text: 'state', xref: 'paper', yref: 'paper', x: 16 / W, y: 1 - 190 / H, textangle: -90,
  xanchor: 'center', yanchor: 'middle', showarrow: false, font: {family: FONT, size: 22, color: '#111'}});

Plotly.newPlot('chart', pointTraces.concat(boxTraces), layout, {staticPlot: true, displayModeBar: false});
</script>
</body>
</html>
